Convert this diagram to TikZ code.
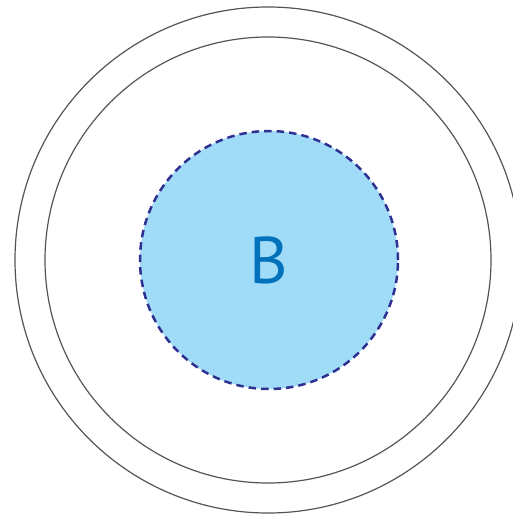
\documentclass[tikz,border=0pt]{standalone}
\usepackage{fontspec}
\setmainfont{PT Sans}
\definecolor{ringgray}{HTML}{555555}
\definecolor{setfill}{HTML}{A0DCF8}
\definecolor{setline}{HTML}{2E3192}
\definecolor{setlabel}{HTML}{0072BC}
\tikzset{
  ring/.style={draw=ringgray,line width=1.2pt},
  setb/.style={circle,fill=setfill,draw=setline,line width=2.5pt,dash pattern=on 7.5pt off 5pt,minimum size=258pt,inner sep=0pt,text=setlabel,font=\fontsize{66}{66}\selectfont}
}
\begin{document}
\begin{tikzpicture}[x=1pt,y=-1pt]
\useasboundingbox (0,0) rectangle (513,516);
\clip (0,0) rectangle (513,516);
\draw[ring] (268,260) circle (253);
\draw[ring] (268,260) circle (223);
\node[setb] (b) at (269,260) {B};
\end{tikzpicture}
\end{document}
